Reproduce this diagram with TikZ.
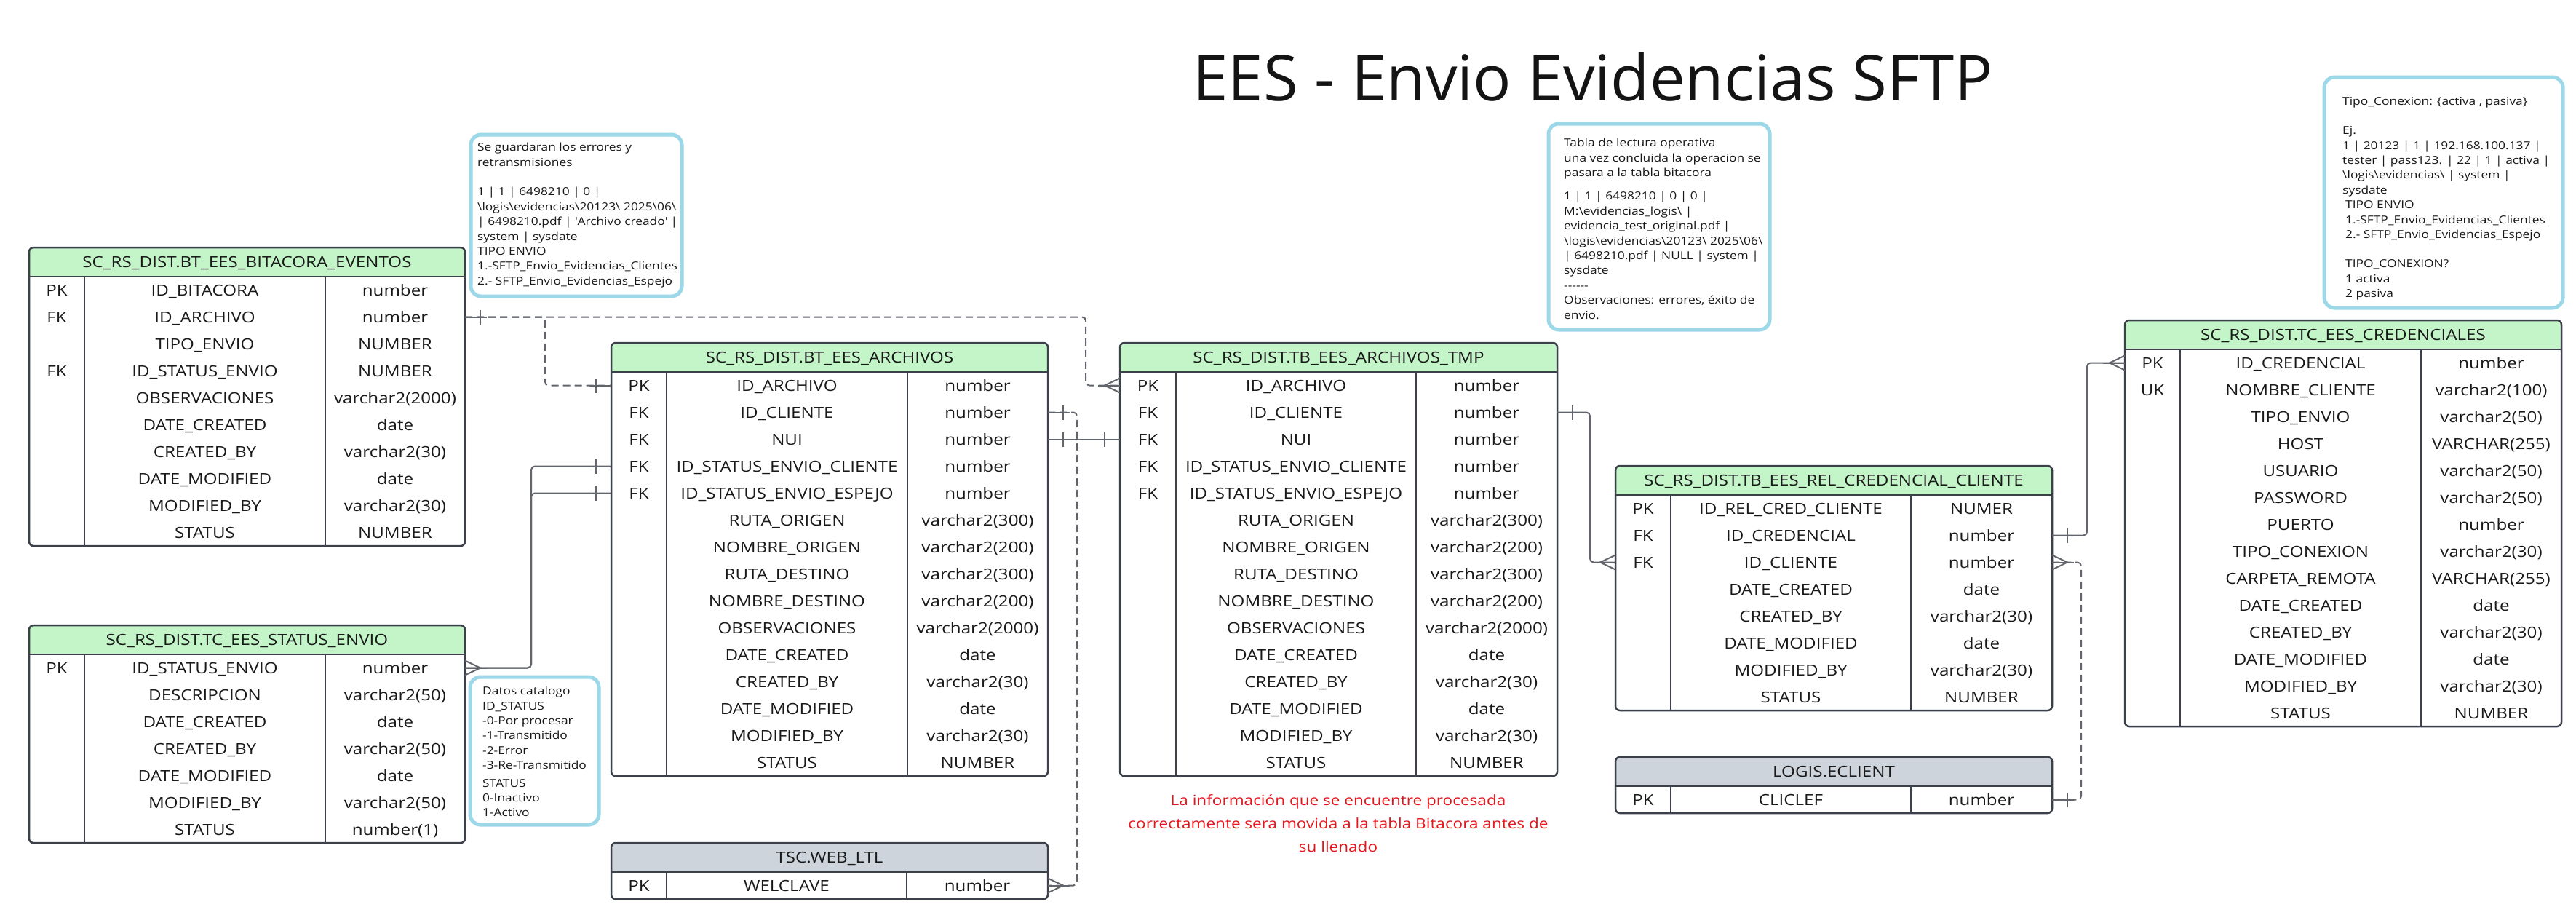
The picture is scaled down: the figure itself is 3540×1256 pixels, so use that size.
\documentclass[tikz,border=0pt]{standalone}
\usepackage{fontspec}
\setmainfont{Open Sans}
\newfontfamily\widefont[FakeStretch=1.15]{Open Sans}
\usepackage{tikz}
\usetikzlibrary{calc}

\definecolor{hdrgreen}{HTML}{C3F5C8}
\definecolor{hdrgrey}{HTML}{CED4DC}
\definecolor{framegrey}{HTML}{3B404A}
\definecolor{notecyan}{HTML}{9CD8E7}
\definecolor{linkgrey}{HTML}{62666C}
\definecolor{notered}{HTML}{E4161C}

\tikzset{
	tblline/.style={line width=2.5pt, draw=framegrey},
	tblcell/.style={font=\widefont\fontsize{21}{25}\selectfont, text=black!90, inner sep=0pt, text height=15pt, text depth=0pt},
	link/.style={line width=2pt, draw=linkgrey, rounded corners=5pt},
	dlink/.style={link, dash pattern=on 10pt off 6pt},
	notebox/.style={line width=5pt, draw=notecyan, rounded corners=14pt},
	notetext/.style={font=\widefont\fontsize{15.1}{20.4}\selectfont, align=left, inner sep=0pt, anchor=north west, text=black!90}
}

% table: (name)(left,keydiv,typediv,right,top)[header colour]{title}{key/field/type,...}
\def\ertable(#1)(#2,#3,#4,#5,#6)[#7]#8#9{%
	\begin{scope}
		\clip[rounded corners=6pt] (#2,#6) rectangle (#5,{#6+100});
		\fill[#7] (#2,#6) rectangle (#5,{#6+40});
	\end{scope}
	\node[tblcell] (#1-title) at ({(#2+#5)/2},{#6+20}) {#8};
	\foreach \k/\f/\t [count=\i] in {#9}{%
		\node[tblcell] (#1-\i-k) at ({(#2+#3)/2},{#6+40+37*\i-18.5}) {\k};
		\node[tblcell] (#1-\i-f) at ({(#3+#4)/2},{#6+40+37*\i-18.5}) {\f};
		\node[tblcell] (#1-\i-t) at ({(#4+#5)/2},{#6+40+37*\i-18.5}) {\t};
		\coordinate (#1-\i-w) at (#2,{#6+40+37*\i-18.5});
		\coordinate (#1-\i-e) at (#5,{#6+40+37*\i-18.5});
		\xdef\nrows{\i}
	}
	\draw[tblline, rounded corners=6pt] (#2,#6) rectangle (#5,{#6+40+37*\nrows});
	\draw[tblline] (#2,{#6+40}) -- (#5,{#6+40});
	\draw[tblline] (#3,{#6+40}) -- (#3,{#6+40+37*\nrows});
	\draw[tblline] (#4,{#6+40}) -- (#4,{#6+40+37*\nrows});
}
% ends of a relation: one (bar) and many (crow's foot), #2 = +1 right, -1 left
\def\onemark(#1)[#2]{\draw[link] (#1) -- ($(#1)+(#2*30,0)$); \draw[link] ($(#1)+(#2*21,-10)$) -- ($(#1)+(#2*21,10)$);}
\def\manymark(#1)[#2]{\draw[link, rounded corners=0pt] ($(#1)+(0,-10)$) -- ($(#1)+(#2*21,0)$) -- ($(#1)+(0,10)$); \draw[link] (#1) -- ($(#1)+(#2*30,0)$);}

\begin{document}
\begin{tikzpicture}[x=1pt, y=-1pt]
			%%%%% START %%%%%
			
			\fill[white] (0,0) rectangle (3540,1256);
			\useasboundingbox (0,0) rectangle (3540,1256);
			
			\node[font=\fontsize{87}{92}\selectfont, text=black!92] (title) at (2189,106) {EES - Envio Evidencias SFTP};
			
			\ertable(bit)(40,116,447,639,340)[hdrgreen]{SC\_RS\_DIST.BT\_EES\_BITACORA\_EVENTOS}{PK/ID\_BITACORA/number, FK/ID\_ARCHIVO/number, /TIPO\_ENVIO/NUMBER, FK/ID\_STATUS\_ENVIO/NUMBER, /OBSERVACIONES/varchar2(2000), /DATE\_CREATED/date, /CREATED\_BY/varchar2(30), /DATE\_MODIFIED/date, /MODIFIED\_BY/varchar2(30), /STATUS/NUMBER};
			
			\ertable(stat)(40,116,447,639,859)[hdrgreen]{SC\_RS\_DIST.TC\_EES\_STATUS\_ENVIO}{PK/ID\_STATUS\_ENVIO/number, /DESCRIPCION/varchar2(50), /DATE\_CREATED/date, /CREATED\_BY/varchar2(50), /DATE\_MODIFIED/date, /MODIFIED\_BY/varchar2(50), /STATUS/number(1)};
			
			\ertable(arch)(840,916,1247,1440,471)[hdrgreen]{SC\_RS\_DIST.BT\_EES\_ARCHIVOS}{PK/ID\_ARCHIVO/number, FK/ID\_CLIENTE/number, FK/NUI/number, FK/ID\_STATUS\_ENVIO\_CLIENTE/number, FK/ID\_STATUS\_ENVIO\_ESPEJO/number, /RUTA\_ORIGEN/varchar2(300), /NOMBRE\_ORIGEN/varchar2(200), /RUTA\_DESTINO/varchar2(300), /NOMBRE\_DESTINO/varchar2(200), /OBSERVACIONES/varchar2(2000), /DATE\_CREATED/date, /CREATED\_BY/varchar2(30), /DATE\_MODIFIED/date, /MODIFIED\_BY/varchar2(30), /STATUS/NUMBER};
			
			\ertable(tmp)(1539,1616,1946,2140,471)[hdrgreen]{SC\_RS\_DIST.TB\_EES\_ARCHIVOS\_TMP}{PK/ID\_ARCHIVO/number, FK/ID\_CLIENTE/number, FK/NUI/number, FK/ID\_STATUS\_ENVIO\_CLIENTE/number, FK/ID\_STATUS\_ENVIO\_ESPEJO/number, /RUTA\_ORIGEN/varchar2(300), /NOMBRE\_ORIGEN/varchar2(200), /RUTA\_DESTINO/varchar2(300), /NOMBRE\_DESTINO/varchar2(200), /OBSERVACIONES/varchar2(2000), /DATE\_CREATED/date, /CREATED\_BY/varchar2(30), /DATE\_MODIFIED/date, /MODIFIED\_BY/varchar2(30), /STATUS/NUMBER};
			
			\ertable(ltl)(840,916,1246,1440,1158)[hdrgrey]{TSC.WEB\_LTL}{PK/WELCLAVE/number};
			
			\ertable(rel)(2220,2296,2626,2820,640)[hdrgreen]{SC\_RS\_DIST.TB\_EES\_REL\_CREDENCIAL\_CLIENTE}{PK/ID\_REL\_CRED\_CLIENTE/NUMER, FK/ID\_CREDENCIAL/number, FK/ID\_CLIENTE/number, /DATE\_CREATED/date, /CREATED\_BY/varchar2(30), /DATE\_MODIFIED/date, /MODIFIED\_BY/varchar2(30), /STATUS/NUMBER};
			
			\ertable(cli)(2220,2296,2626,2820,1040)[hdrgrey]{LOGIS.ECLIENT}{PK/CLICLEF/number};
			
			\ertable(cred)(2920,2996,3327,3520,440)[hdrgreen]{SC\_RS\_DIST.TC\_EES\_CREDENCIALES}{PK/ID\_CREDENCIAL/number, UK/NOMBRE\_CLIENTE/varchar2(100), /TIPO\_ENVIO/varchar2(50), /HOST/VARCHAR(255), /USUARIO/varchar2(50), /PASSWORD/varchar2(50), /PUERTO/number, /TIPO\_CONEXION/varchar2(30), /CARPETA\_REMOTA/VARCHAR(255), /DATE\_CREATED/date, /CREATED\_BY/varchar2(30), /DATE\_MODIFIED/date, /MODIFIED\_BY/varchar2(30), /STATUS/NUMBER};
			
			% relations
			\draw[dlink] (bit-2-e) -- ++(110,0) |- (arch-1-w);
			\draw[dlink] (bit-2-e) -- ++(853,0) |- (tmp-1-w);
			\draw[link] (arch-3-e) -- (tmp-3-w);
			\draw[dlink] (arch-2-e) -- ++(40,0) |- (ltl-1-e);
			\draw[link] (arch-4-w) -- ++(-110,0) |- (stat-1-e);
			\draw[link] (arch-5-w) -- ++(-110,0) |- (stat-1-e);
			\draw[link] (tmp-2-e) -- ++(45,0) |- (rel-3-w);
			\draw[link] (rel-2-e) -- ++(48,0) |- (cred-1-w);
			\draw[dlink] (rel-3-e) -- ++(40,0) |- (cli-1-e);
			
			\onemark(bit-2-e)[1];
			\onemark(arch-1-w)[-1];
			\manymark(tmp-1-w)[-1];
			\onemark(arch-3-e)[1];
			\onemark(tmp-3-w)[-1];
			\onemark(arch-2-e)[1];
			\manymark(ltl-1-e)[1];
			\onemark(arch-4-w)[-1];
			\onemark(arch-5-w)[-1];
			\manymark(stat-1-e)[1];
			\onemark(tmp-2-e)[1];
			\manymark(rel-3-w)[-1];
			\onemark(rel-2-e)[1];
			\manymark(cred-1-w)[-1];
			\manymark(rel-3-e)[1];
			\onemark(cli-1-e)[1];
			
			% notes
			\draw[notebox] (647,185) rectangle (937,407);
			\node[notetext] (note-bit) at (656,196) {Se guardaran los errores y\\
				retransmisiones\\[20.4pt]
				1 | 1 | 6498210 | 0 |\\
				\textbackslash logis\textbackslash evidencias\textbackslash 20123\textbackslash{} 2025\textbackslash 06\textbackslash\\
				| 6498210.pdf | \textquotesingle Archivo creado\textquotesingle{} |\\
				system | sysdate\\
				TIPO ENVIO\\
				1.-SFTP\_Envio\_Evidencias\_Clientes\\
				2.- SFTP\_Envio\_Evidencias\_Espejo};
			
			\draw[notebox] (646,930) rectangle (823,1133);
			\node[notetext] (note-stat) at (663,943) {Datos catalogo\\
				ID\_STATUS\\
				-0-Por procesar\\
				-1-Transmitido\\
				-2-Error\\
				-3-Re-Transmitido\\[4pt]
				STATUS\\
				0-Inactivo\\
				1-Activo};
			
			\draw[notebox] (2128,170) rectangle (2432,453);
			\node[notetext] (note-tmp) at (2149,190) {Tabla de lectura operativa\\
				una vez concluida la operacion se\\
				pasara a la tabla bitacora\\[12pt]
				1 | 1 | 6498210 | 0 | 0 |\\
				M:\textbackslash evidencias\_logis\textbackslash{} |\\
				evidencia\_test\_original.pdf |\\
				\textbackslash logis\textbackslash evidencias\textbackslash 20123\textbackslash{} 2025\textbackslash 06\textbackslash\\
				| 6498210.pdf | NULL | system |\\
				sysdate\\
				-{}-{}-{}-{}-{}-\\
				Observaciones: errores, éxito de\\
				envio.};
			
			\draw[notebox] (3194,106) rectangle (3522,423);
			\node[notetext] (note-cred) at (3219,133) {Tipo\_Conexion: \{activa , pasiva\}\\[20pt]
				Ej.\\
				1 | 20123 | 1 | 192.168.100.137 |\\
				tester | pass123. | 22 | 1 | activa |\\
				\textbackslash logis\textbackslash evidencias\textbackslash{} | system |\\
				sysdate\\
				\hspace*{4pt}TIPO ENVIO\\
				\hspace*{4pt}1.-SFTP\_Envio\_Evidencias\_Clientes\\
				\hspace*{4pt}2.- SFTP\_Envio\_Evidencias\_Espejo\\[20pt]
				\hspace*{4pt}TIPO\_CONEXION?\\
				\hspace*{4pt}1 activa\\
				\hspace*{4pt}2 pasiva};
			
			\node[font=\widefont\fontsize{19.6}{32}\selectfont, text=notered, align=center] (note-red) at (1839,1131) {La información que se encuentre procesada\\
				correctamente sera movida a la tabla Bitacora antes de\\
				su llenado};
			
			%%%%% END %%%%%
\end{tikzpicture}
\end{document}
